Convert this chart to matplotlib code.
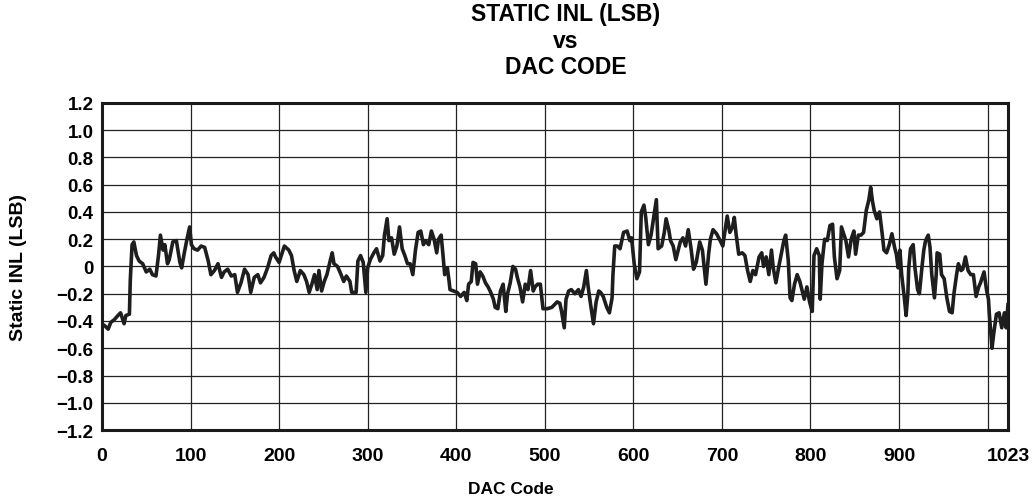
import numpy as np
import matplotlib
matplotlib.use("Agg")
import matplotlib.pyplot as plt

plt.rcParams['font.family'] = ['Liberation Sans', 'DejaVu Sans']
plt.rcParams['font.weight'] = 'bold'

# INL trace, code : value (LSB)
dac_code = [
  0, 4, 7, 10, 14, 18, 21, 25, 27, 31,
  32, 34, 36, 39, 42, 46, 50, 54, 57, 61,
  64, 66, 69, 71, 74, 76, 80, 84, 88, 90,
  93, 96, 99, 101, 104, 108, 112, 116, 120, 123,
  127, 131, 135, 138, 142, 146, 150, 153, 157, 161,
  165, 168, 172, 176, 179, 183, 187, 191, 194, 196,
  200, 203, 206, 211, 214, 217, 220, 224, 228, 231,
  234, 237, 240, 243, 245, 248, 251, 254, 258, 260,
  262, 266, 270, 273, 276, 280, 282, 287, 289, 292,
  295, 298, 300, 303, 307, 310, 314, 317, 319, 322,
  324, 327, 330, 333, 336, 339, 342, 345, 348, 351,
  354, 357, 360, 363, 365, 369, 372, 375, 378, 380,
  383, 385, 387, 390, 392, 393, 397, 401, 405, 409,
  412, 414, 417, 419, 422, 424, 427, 430, 433, 436,
  439, 442, 444, 447, 450, 453, 456, 458, 461, 464,
  467, 469, 472, 475, 478, 481, 484, 487, 489, 492,
  495, 498, 503, 508, 514, 517, 519, 522, 524, 527,
  530, 534, 538, 541, 544, 547, 549, 552, 555, 558,
  561, 563, 566, 570, 573, 576, 577, 579, 582, 585,
  589, 593, 596, 598, 601, 604, 607, 609, 612, 614,
  617, 620, 623, 626, 628, 632, 635, 637, 640, 642,
  645, 648, 651, 653, 656, 659, 662, 665, 668, 671,
  675, 678, 682, 685, 687, 690, 694, 698, 701, 703,
  706, 709, 712, 714, 716, 719, 723, 726, 729, 732,
  735, 738, 742, 745, 747, 750, 753, 756, 758, 761,
  764, 767, 770, 772, 775, 777, 779, 782, 785, 788,
  791, 793, 796, 799, 802, 804, 807, 810, 811, 813,
  816, 819, 822, 825, 827, 830, 833, 835, 837, 840,
  843, 846, 849, 851, 854, 857, 860, 863, 866, 868,
  870, 872, 875, 878, 881, 883, 886, 889, 892, 895,
  897, 899, 901, 903, 906, 908, 910, 911, 913, 916,
  918, 921, 923, 926, 928, 930, 933, 935, 937, 940,
  942, 943, 946, 948, 951, 954, 957, 960, 962, 965,
  967, 970, 972, 975, 978, 981, 984, 987, 990, 992,
  996, 999, 1001, 1002, 1005, 1007, 1010, 1013, 1016, 1019,
  1021, 1023]
inl_lsb = [
  -0.42, -0.44, -0.46, -0.41, -0.39, -0.36, -0.34, -0.42, -0.36, -0.35,
  -0.10, 0.16, 0.18, 0.08, 0.04, 0.02, -0.04, -0.02, -0.06, -0.07,
  0.09, 0.23, 0.12, 0.16, 0.02, 0.05, 0.18, 0.19, 0.03, -0.01,
  0.10, 0.20, 0.29, 0.16, 0.13, 0.12, 0.15, 0.14, 0.04, -0.06,
  -0.03, 0.02, -0.08, -0.04, -0.02, -0.07, -0.06, -0.19, -0.12, -0.02,
  -0.06, -0.19, -0.08, -0.06, -0.12, -0.08, -0.01, 0.08, 0.10, 0.07,
  0.03, 0.09, 0.15, 0.12, 0.08, -0.03, -0.11, -0.03, -0.06, -0.11,
  -0.19, -0.13, -0.06, -0.17, -0.03, -0.18, -0.11, -0.06, 0.05, 0.10,
  0.02, 0.00, -0.06, -0.11, -0.07, -0.11, -0.19, -0.19, 0.04, 0.08,
  0.03, -0.19, -0.01, 0.05, 0.10, 0.13, 0.04, 0.08, 0.23, 0.35,
  0.19, 0.21, 0.09, 0.15, 0.29, 0.13, 0.08, 0.02, 0.02, -0.06,
  0.12, 0.25, 0.26, 0.16, 0.19, 0.16, 0.26, 0.20, 0.10, 0.20,
  0.23, 0.09, -0.06, -0.01, -0.11, -0.17, -0.18, -0.19, -0.22, -0.19,
  -0.25, -0.13, -0.11, 0.03, 0.02, -0.13, -0.04, -0.07, -0.12, -0.15,
  -0.19, -0.24, -0.30, -0.31, -0.18, -0.13, -0.33, -0.20, -0.12, 0.00,
  -0.02, -0.08, -0.15, -0.26, -0.13, -0.17, -0.03, -0.18, -0.15, -0.13,
  -0.13, -0.31, -0.31, -0.30, -0.26, -0.27, -0.33, -0.45, -0.24, -0.18,
  -0.17, -0.20, -0.17, -0.22, -0.15, -0.03, -0.15, -0.29, -0.42, -0.26,
  -0.18, -0.19, -0.22, -0.30, -0.34, -0.23, -0.06, 0.15, 0.15, 0.13,
  0.25, 0.26, 0.19, 0.21, 0.02, -0.09, -0.04, 0.40, 0.45, 0.36,
  0.16, 0.23, 0.36, 0.49, 0.13, 0.15, 0.25, 0.35, 0.27, 0.19,
  0.15, 0.05, 0.13, 0.18, 0.21, 0.15, 0.27, 0.14, -0.02, 0.03,
  0.18, 0.12, -0.13, 0.09, 0.20, 0.27, 0.24, 0.19, 0.15, 0.24,
  0.37, 0.25, 0.29, 0.36, 0.24, 0.09, 0.10, 0.08, -0.03, -0.11,
  -0.03, -0.06, 0.07, 0.10, 0.00, 0.07, -0.06, 0.12, -0.01, -0.12,
  -0.01, 0.09, 0.19, 0.23, 0.04, -0.23, -0.25, -0.13, -0.06, -0.11,
  -0.19, -0.24, -0.15, -0.26, -0.33, 0.08, 0.13, 0.08, -0.24, 0.02,
  0.20, 0.19, 0.30, 0.31, 0.07, -0.09, -0.03, 0.29, 0.25, 0.19,
  0.07, 0.20, 0.26, 0.09, 0.23, 0.23, 0.25, 0.41, 0.49, 0.58,
  0.48, 0.41, 0.35, 0.40, 0.24, 0.12, 0.10, 0.16, 0.24, 0.14,
  0.09, -0.01, 0.12, -0.06, -0.23, -0.36, -0.20, -0.01, 0.13, 0.16,
  -0.01, -0.17, -0.20, 0.00, 0.12, 0.19, 0.23, 0.14, -0.06, -0.23,
  -0.06, 0.10, 0.09, -0.06, -0.09, -0.23, -0.33, -0.34, -0.20, -0.06,
  0.02, -0.03, -0.02, 0.07, -0.03, -0.06, -0.06, -0.22, -0.15, -0.12,
  -0.04, -0.18, -0.24, -0.35, -0.60, -0.49, -0.35, -0.34, -0.45, -0.34,
  -0.45, -0.28]

x_ticks = [0, 100, 200, 300, 400, 500, 600, 700, 800, 900, 1023]
x_grid = [0, 100, 200, 300, 400, 500, 600, 700, 800, 900, 1000]
y_ticks = [1.2, 1.0, 0.8, 0.6, 0.4, 0.2, 0, -0.2, -0.4, -0.6, -0.8, -1.0, -1.2]
y_labels = ["1.2", "1.0", "0.8", "0.6", "0.4", "0.2", "0",
            "\u22120.2", "\u22120.4", "\u22120.6", "\u22120.8", "\u22121.0", "\u22121.2"]

fig = plt.figure(figsize=(10.34, 5.02), dpi=100)
ax = fig.add_axes([0.0986, 0.1414, 0.8762, 0.6516])

for g in x_grid:
  ax.axvline(g, color="#222222", lw=0.9, zorder=1)
for g in y_ticks:
  ax.axhline(g, color="#222222", lw=0.9, zorder=1)

ax.plot(dac_code, inl_lsb, color="#1e1e1e", lw=2.6, zorder=3)

ax.set_xlim(0, 1023)
ax.set_ylim(-1.2, 1.2)
ax.set_xticks(x_ticks)
ax.set_xticklabels([str(t) for t in x_ticks], fontsize=14, fontweight="bold")
ax.set_yticks(y_ticks)
ax.set_yticklabels(y_labels, fontsize=13.5, fontweight="bold")
ax.tick_params(length=0, pad=6)
ax.tick_params(axis="x", pad=12)
for s in ax.spines.values():
  s.set_linewidth(2.2)
  s.set_color("#1a1a1a")

ax.set_xlabel("DAC Code", fontsize=12.5, fontweight="bold")
ax.xaxis.set_label_coords(0.451, -0.155)
ax.set_ylabel("Static INL (LSB)", fontsize=14, fontweight="bold")
ax.yaxis.set_label_coords(-0.083, 0.5)

fig.text(566/1034, 1 - 15/502, "STATIC INL (LSB)", ha="center", va="center",
         fontsize=16.5, fontweight="bold")
fig.text(566/1034, 1 - 42/502, "vs", ha="center", va="center",
         fontsize=16.5, fontweight="bold")
fig.text(566/1034, 1 - 68/502, "DAC CODE", ha="center", va="center",
         fontsize=16.5, fontweight="bold")

fig.savefig("out.png", dpi=100)
